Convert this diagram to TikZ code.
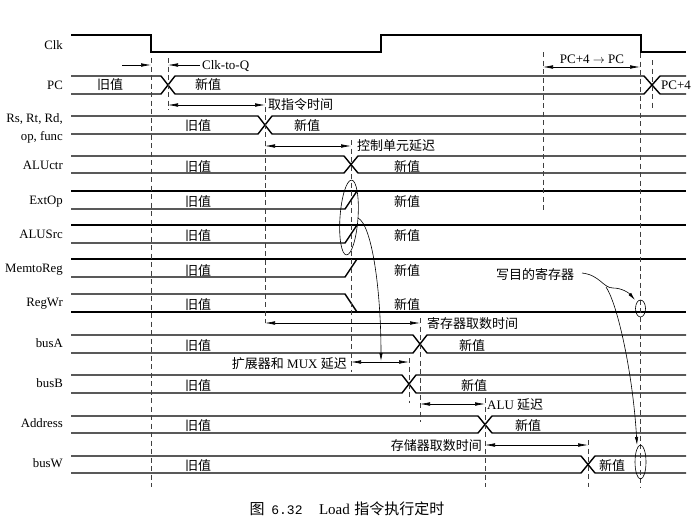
\documentclass[tikz,border=0pt]{standalone}
\usepackage{fontspec}
\setmainfont{Liberation Serif}
\newfontfamily\cjk{Noto Sans CJK SC}
\newfontfamily\monof{Liberation Mono}
\usetikzlibrary{arrows.meta}
\newcommand\zh[1]{{\cjk #1}}
% bus with one crossing: #1 top y, #2 bottom y, #3 crossing x
\newcommand\busX[3]{%
  \draw[sig] (71,#1) -- ({#3-7},#1) -- ({#3+7},#2) -- (686,#2);
  \draw[sig] (71,#2) -- ({#3-7},#2) -- ({#3+7},#1) -- (686,#1);
}
\tikzset{
  sig/.style={line width=1.4pt, line join=miter},
  guide/.style={line width=0.7pt, dash pattern=on 5pt off 3.5pt, black!75},
  dim/.style={line width=0.6pt, {Latex[length=10pt,width=3.6pt]}-{Latex[length=10pt,width=3.6pt]}},
  dimr/.style={line width=0.6pt, -{Latex[length=10pt,width=3.6pt]}},
  curv/.style={line width=0.6pt, -{Latex[length=8pt,width=3.4pt]}},
  ring/.style={line width=0.6pt},
  lab/.style={inner sep=0pt, anchor=base east, font=\fontsize{12.8}{17}\selectfont},
  val/.style={inner sep=0pt, font=\fontsize{13}{13}\selectfont\cjk},
  note/.style={inner sep=0pt, font=\fontsize{13}{13}\selectfont},
}
\begin{document}
\begin{tikzpicture}[x=1pt,y=-1pt]
\useasboundingbox (0,0) rectangle (700,520);

% ---------- signals ----------
% Clk
\draw[sig] (71,35) -- (151,35) -- (151,52) -- (381,52) -- (381,35) -- (641,35) -- (641,52) -- (686,52);
% PC
\draw[sig] (71,76) -- (161,76) -- (175,94) -- (644,94) -- (660,76) -- (686,76);
\draw[sig] (71,94) -- (161,94) -- (175,76) -- (644,76) -- (660,94) -- (686,94);
% Rs, Rt, Rd, op, func
\busX{116}{134}{265}
% ALUctr
\busX{156}{173}{351}
% ExtOp
\draw[sig] (71,191) -- (686,191);
\draw[sig] (71,209) -- (345,209) -- (357,191);
% ALUSrc
\draw[sig] (71,225) -- (686,225);
\draw[sig] (71,243) -- (345,243) -- (357,225);
% MemtoReg
\draw[sig] (71,259) -- (686,259);
\draw[sig] (71,277) -- (345,277) -- (357,259);
% RegWr
\draw[sig] (71,312) -- (686,312);
\draw[sig] (71,294) -- (345,294) -- (357,312);
% busA, busB, Address, busW
\busX{335}{353}{420}
\busX{375}{393}{409}
\busX{416}{433}{485}
\busX{456}{473}{588}

% ---------- guide lines ----------
\draw[guide] (151,58) -- (151,487);
\draw[guide] (168,58) -- (168,110);
\draw[guide] (265,98) -- (265,323);
\draw[guide] (351,140) -- (351,372);
\draw[guide] (543,52) -- (543,212);
\draw[guide] (640,53) -- (640,487);
\draw[guide] (652,60) -- (652,108);
\draw[guide] (420,318) -- (420,422);
\draw[guide] (409,358) -- (409,403);
\draw[guide] (485,398) -- (485,487);
\draw[guide] (588,440) -- (588,487);

% ---------- signal names ----------
\node[lab] (nClk) at (63,49.5) {Clk};
\node[lab] (nPC) at (63,89) {PC};
\node[lab] (nRs) at (63,122.5) {Rs, Rt, Rd,};
\node[lab] (nOp) at (63,140) {op, func};
\node[lab] (nALUctr) at (63,169.5) {ALUctr};
\node[lab] (nExtOp) at (63,204) {ExtOp};
\node[lab] (nALUSrc) at (63,238) {ALUSrc};
\node[lab] (nMemtoReg) at (63,272) {MemtoReg};
\node[lab] (nRegWr) at (63,306.5) {RegWr};
\node[lab] (nbusA) at (63,347) {busA};
\node[lab] (nbusB) at (63,387) {busB};
\node[lab] (nAddress) at (63,427.5) {Address};
\node[lab] (nbusW) at (63,467.5) {busW};

% ---------- values ----------
\node[val] (v1o) at (110,85) {旧值};
\node[val] (v1n) at (208,85) {新值};
\node[note, anchor=base west] (v1p) at (661,89) {PC+4};
\node[val] (v2o) at (198,126) {旧值};
\node[val] (v2n) at (307,126) {新值};
\node[val] (v3o) at (198,166.5) {旧值};
\node[val] (v3n) at (407,166.5) {新值};
\node[val] (v4o) at (198,202) {旧值};
\node[val] (v4n) at (407,202) {新值};
\node[val] (v5o) at (198,236) {旧值};
\node[val] (v5n) at (407,236) {新值};
\node[val] (v6o) at (198,270.5) {旧值};
\node[val] (v6n) at (407,270.5) {新值};
\node[val] (v7o) at (198,304.5) {旧值};
\node[val] (v7n) at (407,304.5) {新值};
\node[val] (v8o) at (198,345.5) {旧值};
\node[val] (v8n) at (472,345.5) {新值};
\node[val] (v9o) at (198,385.5) {旧值};
\node[val] (v9n) at (474,385.5) {新值};
\node[val] (v10o) at (198,425.5) {旧值};
\node[val] (v10n) at (528,425.5) {新值};
\node[val] (v11o) at (198,465.5) {旧值};
\node[val] (v11n) at (612,465.5) {新值};

% ---------- timing annotations ----------
\coordinate (a0) at (122,65); \coordinate (a1) at (151,65);
\draw[dimr] (a0) -- (a1);
\node[note, anchor=base west] (tclk) at (202,69) {Clk-to-Q};
\coordinate (b0) at (200,65); \coordinate (b1) at (168,65);
\draw[dimr] (b0) -- (b1);

\coordinate (c0) at (168,105); \coordinate (c1) at (265,105);
\draw[dim] (c0) -- (c1);
\node[val, anchor=west] (tfetch) at (268,105) {取指令时间};

\coordinate (d0) at (265,146); \coordinate (d1) at (351,146);
\draw[dim] (d0) -- (d1);
\node[val, anchor=west] (tctl) at (357,145.5) {控制单元延迟};

\coordinate (e0) at (543,67); \coordinate (e1) at (640,67);
\draw[dim] (e0) -- (e1);
\node[note, anchor=base] (tpc) at (592,63) {PC+4 $\rightarrow$ PC};

\coordinate (f0) at (265,323); \coordinate (f1) at (420,323);
\draw[dim] (f0) -- (f1);
\node[val, anchor=west] (treg) at (427,324) {寄存器取数时间};

\coordinate (g0) at (351,362); \coordinate (g1) at (409,362);
\draw[dim] (g0) -- (g1);
\node[note, anchor=east] (tmux) at (347,364) {\zh{扩展器和} MUX \zh{延迟}};

\coordinate (h0) at (420,404); \coordinate (h1) at (485,404);
\draw[dim] (h0) -- (h1);
\node[note, anchor=west] (talu) at (487,405) {ALU \zh{延迟}};

\coordinate (k0) at (485,445); \coordinate (k1) at (588,445);
\draw[dim] (k0) -- (k1);
\node[val, anchor=east] (tmem) at (482,445.5) {存储器取数时间};

% ---------- ellipses and curved pointers ----------
\draw[ring, rotate around={-4:(349,217.5)}] (349,217.5) ellipse [x radius=9, y radius=37.5];
\coordinate (m0) at (358,218); \coordinate (m1) at (381,361);
\draw[curv] (m0) .. controls (372,225) and (381,290) .. (m1);

\node[val] (twr) at (535,275) {写目的寄存器};
\draw[ring] (640.5,308.5) ellipse [x radius=5, y radius=8.5];
\draw[ring] (640.5,462) ellipse [x radius=5.5, y radius=17];
\coordinate (w0) at (582,273); \coordinate (w1) at (613,288); \coordinate (w2) at (635,300);
\draw[curv] (w0) .. controls (600,275) and (603,288) .. (w1) .. controls (622,288) and (629,293) .. (w2);
\coordinate (w3) at (606,287); \coordinate (w4) at (637,445);
\draw[curv] (w3) .. controls (618,305) and (633,375) .. (w4);

% ---------- caption ----------
\node[inner sep=0pt, font=\fontsize{15}{15}\selectfont] (cap) at (347,509)
  {\zh{图}\hspace{0.45em}{\fontsize{13}{13}\selectfont\monof 6.32}\hspace{1.1em}Load\hspace{0.3em}\zh{指令执行定时}};
\end{tikzpicture}
\end{document}
